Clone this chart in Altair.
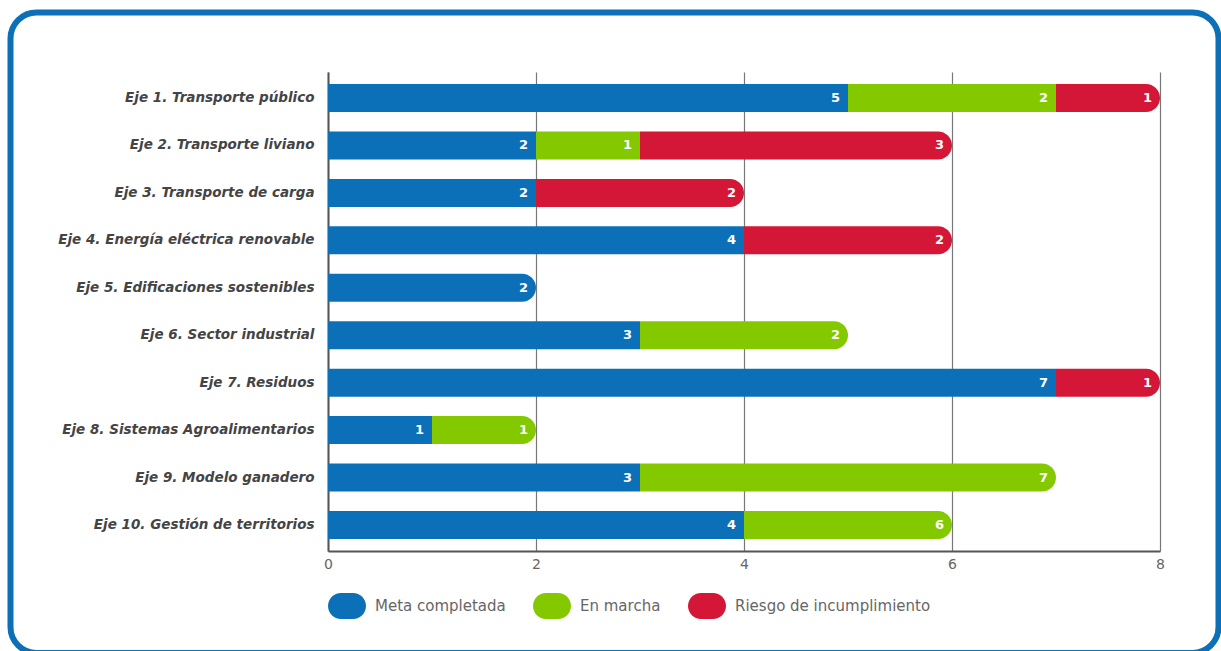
import altair as alt
import pandas as pd

categories = [
    "Eje 1. Transporte público",
    "Eje 2. Transporte liviano",
    "Eje 3. Transporte de carga",
    "Eje 4. Energía eléctrica renovable",
    "Eje 5. Edificaciones sostenibles",
    "Eje 6. Sector industrial",
    "Eje 7. Residuos",
    "Eje 8. Sistemas Agroalimentarios",
    "Eje 9. Modelo ganadero",
    "Eje 10. Gestión de territorios",
]
statuses = ["Meta completada", "En marcha", "Riesgo de incumplimiento"]
colors = ["#0c70b8", "#84c900", "#d41736"]

# bar lengths as drawn
meta = [5, 2, 2, 4, 2, 3, 7, 1, 3, 4]
marcha = [2, 1, 0, 0, 0, 2, 0, 1, 4, 2]
riesgo = [1, 3, 2, 2, 0, 0, 1, 0, 0, 0]
# labels printed on the segments
meta_labels = ["5", "2", "2", "4", "2", "3", "7", "1", "3", "4"]
marcha_labels = ["2", "1", "", "", "", "2", "", "1", "7", "6"]
riesgo_labels = ["1", "3", "2", "2", "", "", "1", "", "", ""]

x_ticks = [0, 2, 4, 6, 8]

rows = []
for i, cat in enumerate(categories):
    start = 0
    segs = [(statuses[0], meta[i], meta_labels[i]),
            (statuses[1], marcha[i], marcha_labels[i]),
            (statuses[2], riesgo[i], riesgo_labels[i])]
    segs = [s for s in segs if s[1] > 0]
    for j, (st, v, lab) in enumerate(segs):
        rows.append({"cat": cat, "status": st, "start": start, "end": start + v,
                     "label": lab, "last": j == len(segs) - 1})
        start += v
df = pd.DataFrame(rows)

FONT = "DejaVu Sans"

y_enc = alt.Y("cat:N", sort=categories, title=None,
              scale=alt.Scale(paddingInner=0.41, paddingOuter=0.253),
              axis=alt.Axis(domain=True, domainColor="#555", domainWidth=2, ticks=False,
                            labelPadding=14, labelFont=FONT, labelFontSize=13.5,
                            labelFontStyle="italic", labelFontWeight="bold",
                            labelColor="#444", grid=False, labelLimit=400))
x_enc = alt.X("start:Q", title=None,
              scale=alt.Scale(domain=[0, 8], nice=False),
              axis=alt.Axis(values=x_ticks, grid=True, gridColor="#777", gridWidth=1.2,
                            domain=True, domainColor="#555", domainWidth=2, ticks=False,
                            labelPadding=6, labelFont=FONT, labelFontSize=14,
                            labelColor="#666", format="d", labelFlush=False))
color_enc = alt.Color("status:N", scale=alt.Scale(domain=statuses, range=colors),
                      legend=alt.Legend(title=None))

base = alt.Chart(df)

bars_mid = base.transform_filter("!datum.last").mark_bar().encode(
    y=y_enc, x=x_enc, x2="end:Q", color=color_enc)
bars_last = base.transform_filter("datum.last").mark_bar(
    cornerRadiusTopRight=14, cornerRadiusBottomRight=14).encode(
    y=y_enc, x=x_enc, x2="end:Q", color=color_enc)
texts = base.mark_text(align="right", baseline="middle", dx=-8, color="white",
                       font=FONT, fontSize=13, fontWeight="bold").encode(
    y=y_enc, x=alt.X("end:Q"), text="label:N")

frame = alt.Chart(pd.DataFrame({"a": [0]})).mark_rect(
    fill=None, stroke="#0c70b8", strokeWidth=6, cornerRadius=26).encode(
    x=alt.value(-317.5), x2=alt.value(890.5), y=alt.value(-59.5), y2=alt.value(581))

chart = alt.layer(frame, bars_mid, bars_last, texts).properties(
    width=832, height=479,
    autosize=alt.AutoSizeParams(type="none"),
    padding={"left": 328, "top": 72, "right": 61, "bottom": 100},
    background="white",
).configure_view(stroke=None).configure_legend(
    orient="none", legendX=0, legendY=515, direction="horizontal",
    symbolType="M-0.316,-0.684L0.316,-0.684A0.684,0.684,0,0,1,0.316,0.684L-0.316,0.684A0.684,0.684,0,0,1,-0.316,-0.684Z",
    symbolSize=1444, symbolStrokeWidth=0, symbolOpacity=1,
    labelFont=FONT, labelFontSize=15, labelColor="#666", labelOffset=9,
    columnPadding=27, padding=0, labelLimit=400,
)

chart.save("out.html", embed_options={"renderer": "svg", "actions": False})
